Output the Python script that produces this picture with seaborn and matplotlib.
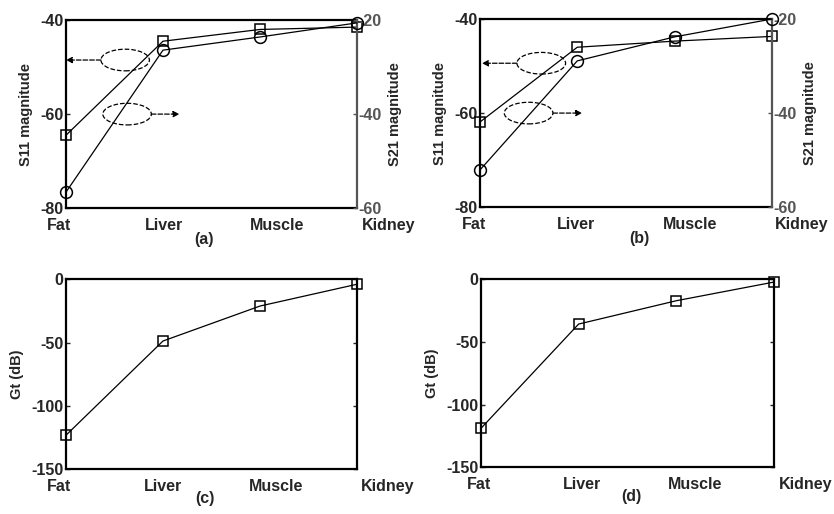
import matplotlib
matplotlib.use("Agg")
import matplotlib.pyplot as plt
import matplotlib.transforms as mtransforms
from matplotlib.patches import Ellipse
import seaborn as sns
import pandas as pd

# data
TISSUES = ["Fat", "Liver", "Muscle", "Kidney"]
S11_A = [-64.5, -44.5, -42.0, -41.5]
S21_A = [-56.6, -26.4, -23.6, -20.6]
S11_B = [-61.9, -46.0, -44.7, -43.7]
S21_B = [-52.1, -28.9, -23.8, -20.0]
GT_C = [-123.1, -48.7, -21.1, -3.9]
GT_D = [-118.9, -35.7, -17.1, -2.2]

GRAY = "#555555"
TICK_SIZE = 11.5
LABEL_SIZE = 10.5

sns.set_style("white")
plt.rcParams["font.family"] = ["Liberation Sans", "DejaVu Sans"]
plt.rcParams["font.weight"] = "bold"
plt.rcParams["axes.labelweight"] = "bold"
plt.rcParams["axes.unicode_minus"] = False

fig = plt.figure(figsize=(8.34, 5.14), dpi=100)

LINE_KW = dict(color="black", lw=0.9, mfc="none", mec="black", mew=1.1,
               sort=False, clip_on=False, zorder=5)


def style_frame(ax, ylim, yticks):
    ax.set_xlim(0, 3)
    ax.set_ylim(*ylim)
    ax.set_yticks(yticks)
    for s in ax.spines.values():
        s.set_color("black")
        s.set_linewidth(1.6)
    ax.tick_params(axis="x", length=0, pad=7, labelsize=TICK_SIZE)
    ax.tick_params(axis="y", direction="in", length=3, width=1, pad=2,
                   labelsize=TICK_SIZE, left=True)


def shift_xlabels(ax, offsets_px):
    for lab, dx in zip(ax.get_xticklabels(), offsets_px):
        off = mtransforms.ScaledTranslation(dx / 100, 0, fig.dpi_scale_trans)
        lab.set_transform(lab.get_transform() + off)


def s_panel(rect, s11, s21, caption, cap_x, offsets, ell_up, ell_dn):
    ax = fig.add_axes(rect)
    df = pd.DataFrame({"tissue": TISSUES, "s11": s11, "s21": s21})
    sns.lineplot(data=df, x="tissue", y="s11", ax=ax, marker="s", ms=7, **LINE_KW)
    style_frame(ax, (-80, -40), [-80, -60, -40])
    ax.spines["right"].set_visible(False)
    ax.set_ylabel("S11 magnitude", fontsize=LABEL_SIZE)
    ax.yaxis.set_label_coords(-0.112, 0.5)
    ax.set_xlabel(caption, fontsize=TICK_SIZE)
    ax.xaxis.set_label_coords(cap_x, -0.125)

    ax2 = ax.twinx()
    sns.lineplot(data=df, x="tissue", y="s21", ax=ax2, marker="o", ms=8.5, **LINE_KW)
    ax2.set_ylim(-60, -20)
    ax2.set_yticks([-60, -40, -20])
    for k in ["top", "left", "bottom"]:
        ax2.spines[k].set_visible(False)
    ax2.spines["right"].set_color(GRAY)
    ax2.spines["right"].set_linewidth(1.6)
    ax2.tick_params(axis="y", direction="in", length=3, width=1, pad=1,
                    colors=GRAY, labelsize=TICK_SIZE)
    ax2.set_ylabel("S21 magnitude", fontsize=LABEL_SIZE)
    ax2.yaxis.set_label_coords(1.106, 0.5)
    ax2.set_xlim(0, 3)

    # dashed ellipses pointing to the matching axis
    for (cx, cy, tip_x, direction) in [ell_up, ell_dn]:
        ax.add_patch(Ellipse((cx, cy), 0.5, 4.6, fill=False, ls="--",
                             lw=0.9, ec="black"))
        start = (cx - 0.25, cy) if direction == "left" else (cx + 0.25, cy)
        ax.annotate("", xy=(tip_x, cy), xytext=start,
                    arrowprops=dict(arrowstyle="-|>", ls="--", lw=0.9,
                                    color="black", shrinkA=0, shrinkB=0,
                                    mutation_scale=9),
                    annotation_clip=False)
    shift_xlabels(ax, offsets)
    return ax


def gt_panel(rect, gt, caption, cap_x, offsets):
    ax = fig.add_axes(rect)
    df = pd.DataFrame({"tissue": TISSUES, "gt": gt})
    sns.lineplot(data=df, x="tissue", y="gt", ax=ax, marker="s", ms=7, **LINE_KW)
    style_frame(ax, (-150, 0), [-150, -100, -50, 0])
    ax.tick_params(axis="y", right=True)
    ax.set_ylabel("Gt (dB)", fontsize=LABEL_SIZE)
    ax.yaxis.set_label_coords(-0.143, 0.5)
    ax.set_xlabel(caption, fontsize=TICK_SIZE)
    ax.xaxis.set_label_coords(cap_x, -0.115)
    shift_xlabels(ax, offsets)
    return ax


s_panel([0.0791, 0.595, 0.349, 0.366], S11_A, S21_A, "(a)", 0.474,
        [-7, 1, 17, 32],
        (0.61, -48.5, 0.0, "left"), (0.63, -60.0, 1.17, "right"))
s_panel([0.5755, 0.597, 0.350, 0.366], S11_B, S21_B, "(b)", 0.545,
        [-6, -1, 15, 30],
        (0.63, -49.4, 0.02, "left"), (0.50, -60.0, 1.05, "right"))
gt_panel([0.0791, 0.0869, 0.349, 0.3697], GT_C, "(c)", 0.477, [-7, 0, 16, 31])
gt_panel([0.5767, 0.0908, 0.3513, 0.3658], GT_D, "(d)", 0.514, [-2, 3, 19, 32])

fig.savefig("out.png", dpi=100)
